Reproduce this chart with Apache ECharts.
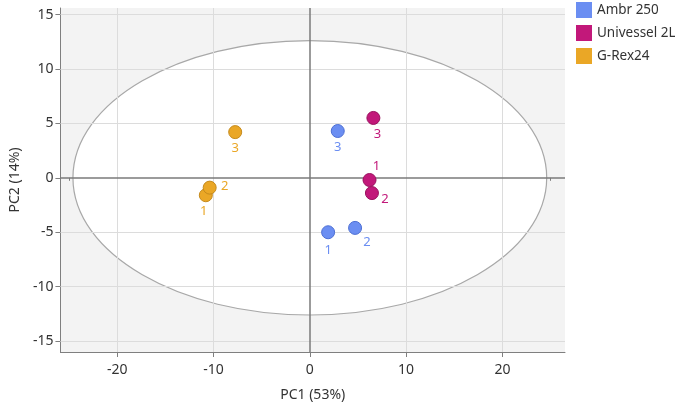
<!DOCTYPE html>
<html>
<head>
<meta charset="utf-8">
<script src="https://cdn.jsdelivr.net/npm/echarts@6/dist/echarts.min.js"></script>
<style>
  html, body { margin: 0; padding: 0; background: #fff; }
  #main { width: 675px; height: 407px; }
</style>
</head>
<body>
<div id="main"></div>
<script>
// 数据
const seriesNames = ['Ambr 250', 'Univessel 2L', 'G-Rex24']
const pointLabels = ['1', '2', '3']
const ambrX = [1.9, 4.7, 2.9]
const ambrY = [-5.0, -4.6, 4.3]
const univX = [6.2, 6.45, 6.6]
const univY = [-0.2, -1.4, 5.5]
const grexX = [-10.8, -10.4, -7.75]
const grexY = [-1.6, -0.9, 4.2]

// 95% 椭圆 (半轴)
const ellipseCenter = [0, 0]
const ellipseRadius = [24.6, 12.6]

// 坐标轴刻度
const xMajorTicks = [-20, -10, 0, 10, 20]
const xMinorTicks = [-25, -15, -5, 5, 15, 25]
const yMajorTicks = [-15, -10, -5, 0, 5, 10, 15]
const yMinorTicks = [-12.5, -7.5, -2.5, 2.5, 7.5, 12.5]
const xGrid = [-20, -10, 10, 20]
const yGrid = [-15, -10, -5, 5, 10, 15]

const colors = ['#6b8ef2', '#c2187a', '#eaa726']
const borders = ['#4d6fd4', '#99105e', '#c58a1c']
// 标签偏移 (像素)
const labelOffsets = [
  [[0, 18], [12, 14], [0, 16]],
  [[7, -14], [13, 6], [4, 16]],
  [[-2, 16], [15, -1], [0, 16]]
]

const font = 'Noto Sans'
const xs = [ambrX, univX, grexX]
const ys = [ambrY, univY, grexY]

function makePoints(i) {
  return xs[i].map((x, j) => ({
    value: [x, ys[i][j]],
    label: { offset: labelOffsets[i][j] }
  }))
}

let scatterSeries = seriesNames.map((name, i) => ({
  name: name,
  type: 'scatter',
  z: 3,
  symbolSize: 13,
  data: makePoints(i),
  itemStyle: { color: colors[i], borderColor: borders[i], borderWidth: 1, opacity: 1 },
  label: {
    show: true,
    position: 'inside',
    formatter: p => pointLabels[p.dataIndex],
    color: colors[i],
    fontSize: 13,
    fontFamily: font
  },
  emphasis: { disabled: true }
}))

let gridLines = []
xGrid.forEach(v => gridLines.push({ xAxis: v, lineStyle: { color: '#dcdcdc', width: 1, type: 'solid' } }))
yGrid.forEach(v => gridLines.push({ yAxis: v, lineStyle: { color: '#dcdcdc', width: 1, type: 'solid' } }))
gridLines.push({ xAxis: 0, lineStyle: { color: '#7a7a7a', width: 1.5, type: 'solid' } })
gridLines.push({ yAxis: 0, lineStyle: { color: '#7a7a7a', width: 1.5, type: 'solid' } })

let ellipseSeries = {
  type: 'custom',
  z: 1,
  silent: true,
  clip: true,
  data: [ellipseCenter],
  renderItem: function (params, api) {
    let c = api.coord([api.value(0), api.value(1)])
    let s = api.size([ellipseRadius[0], ellipseRadius[1]])
    return {
      type: 'ellipse',
      shape: { cx: c[0], cy: c[1], rx: s[0], ry: s[1] },
      style: { fill: '#ffffff', stroke: '#a8a8a8', lineWidth: 1.2 }
    }
  },
  markLine: {
    z: 1.5,
    silent: true,
    symbol: 'none',
    animation: false,
    label: { show: false },
    data: gridLines
  }
}

const axisText = { color: '#333', fontSize: 14, fontFamily: font }

let myChart = echarts.init(document.getElementById('main'))
let option = {
  animation: false,
  textStyle: { fontFamily: font },
  grid: {
    left: 51, right: 110, top: 8, bottom: 54,
    show: true,
    backgroundColor: '#f3f3f3',
    borderWidth: 0
  },
  legend: {
    data: seriesNames,
    orient: 'vertical',
    left: 576,
    top: 2,
    width: 99,
    padding: 0,
    icon: 'rect',
    itemWidth: 16,
    itemHeight: 16,
    itemGap: 7,
    itemStyle: { borderWidth: 0 },
    textStyle: { color: '#333', fontSize: 13.5, fontFamily: font, lineHeight: 16, overflow: 'none' },
    selectedMode: false
  },
  xAxis: [
    {
      type: 'value',
      min: -25.9,
      max: 26.5,
      name: 'PC1 (53%)',
      nameLocation: 'middle',
      nameGap: 36,
      nameTextStyle: axisText,
      axisLine: { show: true, onZero: false, lineStyle: { color: '#7f7f7f', width: 1 } },
      axisTick: { show: true, length: 5, customValues: xMajorTicks, lineStyle: { color: '#7f7f7f' } },
      axisLabel: Object.assign({ customValues: xMajorTicks, margin: 11 }, axisText),
      splitLine: { show: false }
    },
    {
      type: 'value',
      min: -25.9,
      max: 26.5,
      position: 'bottom',
      offset: 0,
      axisLine: { show: false },
      axisTick: { show: true, length: 3, customValues: xMinorTicks, lineStyle: { color: '#7f7f7f' } },
      axisLabel: { show: false },
      splitLine: { show: false }
    }
  ],
  yAxis: [
    {
      type: 'value',
      min: -16,
      max: 15.6,
      name: 'PC2 (14%)',
      nameLocation: 'middle',
      nameGap: 30,
      nameTextStyle: axisText,
      axisLine: { show: true, onZero: false, lineStyle: { color: '#7f7f7f', width: 1 } },
      axisTick: { show: true, length: 5, customValues: yMajorTicks, lineStyle: { color: '#7f7f7f' } },
      axisLabel: Object.assign({ customValues: yMajorTicks, margin: 7 }, axisText),
      splitLine: { show: false }
    },
    {
      type: 'value',
      min: -16,
      max: 15.6,
      position: 'left',
      offset: 0,
      axisLine: { show: false },
      axisTick: { show: true, length: 3, customValues: yMinorTicks, lineStyle: { color: '#7f7f7f' } },
      axisLabel: { show: false },
      splitLine: { show: false }
    }
  ],
  series: [ellipseSeries].concat(scatterSeries)
}
myChart.setOption(option)
</script>
</body>
</html>
